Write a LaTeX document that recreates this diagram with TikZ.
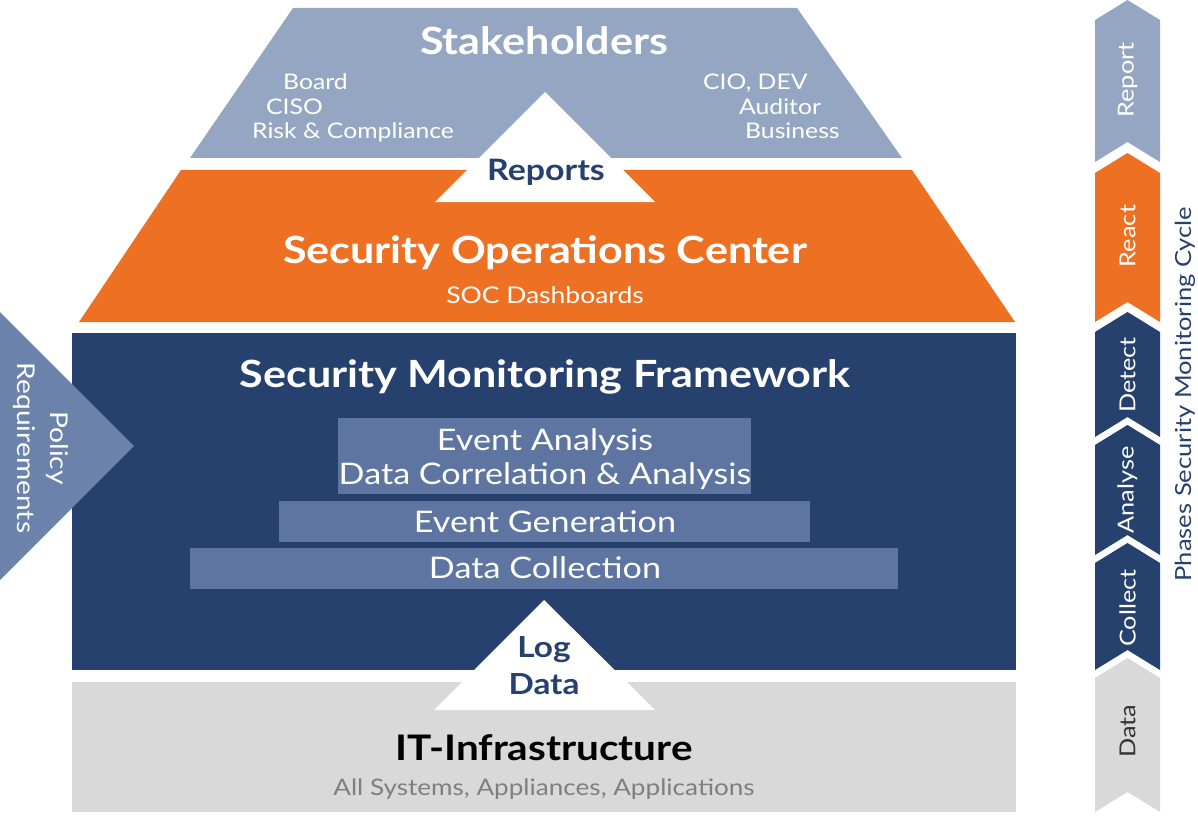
\documentclass[tikz,border=0pt]{standalone}
\usepackage{fontspec}
\setmainfont{Lato}[FakeStretch=1.15]
\definecolor{stake}{HTML}{95A6C3}
\definecolor{soc}{HTML}{EE7023}
\definecolor{navy}{HTML}{26416D}
\definecolor{bar}{HTML}{5D75A0}
\definecolor{infra}{HTML}{D9D9D9}
\definecolor{policy}{HTML}{6B82AA}
\definecolor{subgray}{HTML}{7F7F7F}
\definecolor{datatxt}{HTML}{333333}
\tikzset{
  lbl/.style={inner sep=0pt, anchor=base},
  big/.style={lbl, font=\fontsize{37.5}{44}\selectfont\bfseries},
  mid/.style={lbl, font=\fontsize{29.7}{34}\selectfont},
  sml/.style={lbl, font=\fontsize{21.5}{26}\selectfont},
  tri/.style={lbl, font=\fontsize{29.5}{34}\selectfont\bfseries, text=navy},
  phase/.style={inner sep=0pt, rotate=90, font=\fontsize{22}{26}\selectfont, text=white},
}
\begin{document}
\begin{tikzpicture}[x=1pt,y=-1pt]
\useasboundingbox (0,0) rectangle (1198,837);
% layers
\fill[stake] (293,8) -- (797,8) -- (902,158) -- (190,158) -- cycle;
\fill[soc] (181,170) -- (912,170) -- (1015,322) -- (79,322) -- cycle;
\fill[white] (545,92) -- (655,202) -- (435,202) -- cycle;
\fill[navy] (72,333) rectangle (1016,670);
\fill[infra] (72,682) rectangle (1016,812);
\fill[white] (544,600) -- (655,710) -- (434,710) -- cycle;
\fill[bar] (338,418) rectangle (751,494);
\fill[bar] (279,501) rectangle (810,542);
\fill[bar] (190,548) rectangle (898,589);
\fill[policy] (0,312) -- (134,446) -- (0,580) -- cycle;
% chevrons
\fill[stake] (1095,20) -- (1127.5,0) -- (1160,20) -- (1160,162) -- (1127.5,142) -- (1095,162) -- cycle;
\fill[soc] (1095,173) -- (1127.5,153) -- (1160,173) -- (1160,322) -- (1127.5,302) -- (1095,322) -- cycle;
\fill[navy] (1095,332) -- (1127.5,312) -- (1160,332) -- (1160,437) -- (1127.5,417) -- (1095,437) -- cycle;
\fill[navy] (1095,445) -- (1127.5,425) -- (1160,445) -- (1160,555) -- (1127.5,535) -- (1095,555) -- cycle;
\fill[navy] (1095,563) -- (1127.5,543) -- (1160,563) -- (1160,670) -- (1127.5,650) -- (1095,670) -- cycle;
\fill[infra] (1095,678) -- (1127.5,658) -- (1160,678) -- (1160,812) -- (1127.5,792) -- (1095,812) -- cycle;
% texts
\node[big, text=white] (stk) at (544,55) {Stakeholders};
\node[sml, text=white, anchor=base west] (board) at (283,90) {Board};
\node[sml, text=white, anchor=base west] (ciso) at (266,115) {CISO};
\node[sml, text=white, anchor=base west] (risk) at (252,139) {Risk \& Compliance};
\node[sml, text=white, anchor=base west] (cio) at (703,90) {CIO, DEV};
\node[sml, text=white, anchor=base west] (aud) at (739,115) {Auditor};
\node[sml, text=white, anchor=base west] (bus) at (745,139) {Business};
\node[tri] (rep) at (546,181) {Reports};
\node[big, text=white] (socT) at (545,263) {Security Operations Center};
\node[sml, text=white, font=\fontsize{23}{26}\selectfont] (socD) at (545,303) {SOC Dashboards};
\node[big, text=white] (smf) at (545,387) {Security Monitoring Framework};
\node[mid, text=white] (ea) at (545,450) {Event Analysis};
\node[mid, text=white] (dca) at (545,484) {Data Correlation \& Analysis};
\node[mid, text=white] (eg) at (545,532) {Event Generation};
\node[mid, text=white] (dc) at (545,578) {Data Collection};
\node[tri, font=\fontsize{29}{34}\selectfont\bfseries] (log) at (544,657) {Log};
\node[tri, font=\fontsize{29}{34}\selectfont\bfseries] (logd) at (544,694) {Data};
\node[big, text=black, font=\fontsize{35.2}{40}\selectfont\bfseries] (it) at (544,760) {IT-Infrastructure};
\node[sml, text=subgray, font=\fontsize{22.7}{26}\selectfont] (its) at (544,795) {All Systems, Appliances, Applications};
\node[inner sep=0pt, rotate=-90, text=white, align=center, font=\fontsize{24.5}{33}\selectfont] (pol) at (41,448) {Policy\\Requirements};
% phases
\node[phase] (pRep) at (1127.5,80) {Report};
\node[phase] (pRea) at (1127.5,236) {React};
\node[phase] (pDet) at (1127.5,375) {Detect};
\node[phase] (pAna) at (1127.5,490) {Analyse};
\node[phase] (pCol) at (1127.5,608) {Collect};
\node[phase, text=datatxt] (pDat) at (1127.5,731) {Data};
\node[inner sep=0pt, rotate=90, text=navy, font=\fontsize{22.2}{26}\selectfont] (cyc) at (1185,394) {Phases Security Monitoring Cycle};
\end{tikzpicture}
\end{document}
